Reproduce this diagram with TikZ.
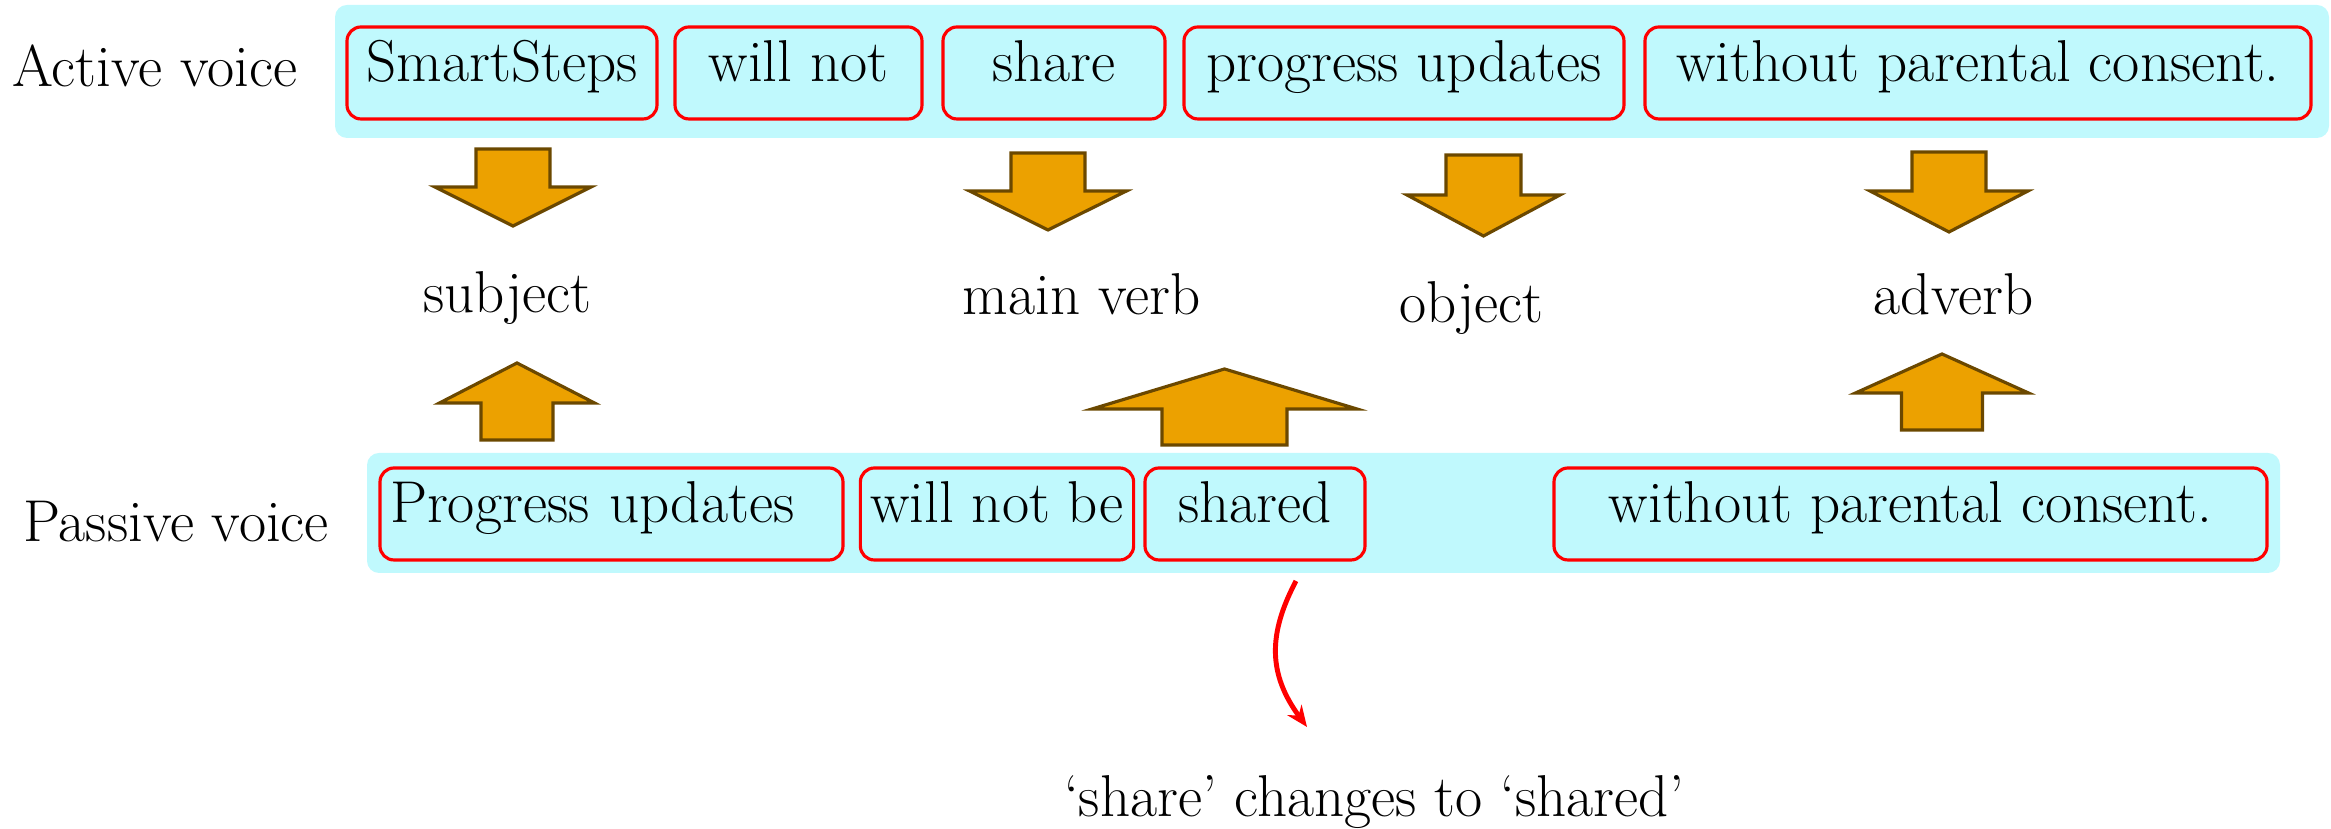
\documentclass[tikz,border=0pt]{standalone}
\usepackage{tikz}
\usetikzlibrary{arrows.meta}
\tikzset{>={Stealth[length=6pt,width=5pt]}}
\definecolor{bandcyan}{RGB}{192,249,253}
\definecolor{arrowfill}{RGB}{236,161,0}
\definecolor{arrowline}{RGB}{107,72,0}
\tikzstyle{band} = [fill=bandcyan, rounded corners=0.12cm]
\tikzstyle{word} = [draw=red, fill=bandcyan, line width=0.9pt, rounded corners=0.14cm, minimum height=0.92cm, text height=11.5pt, text depth=6.4pt, inner xsep=0.1cm]
\tikzstyle{label} = [anchor=base]
\tikzstyle{fat} = [fill=arrowfill, draw=arrowline, line width=0.9pt]
\tikzstyle{turn} = [->, red, line width=1.4pt]
\newcommand{\blockarrow}[6]{
\draw[fat] (#1-#5,#2) -- (#1-#5,#3) -- (#1-#6,#3) -- (#1,#4) -- (#1+#6,#3) -- (#1+#5,#3) -- (#1+#5,#2) -- cycle;
}

\begin{document}
\begin{tikzpicture}[font=\fontsize{16.8}{19}\selectfont]
		\useasboundingbox (0,0) rectangle (23.31,8.29);
		
		% Bands
		\path[band] (3.35,6.91) rectangle (23.29,8.24);
		\path[band] (3.67,2.56) rectangle (22.80,3.76);
		
		% Active sentence
		\node[label] (active) at (1.545,7.42) {Active voice};
		\node[word, minimum width=3.10cm] (subj) at (5.02,7.56) {SmartSteps};
		\node[word, minimum width=2.47cm] (aux) at (7.985,7.56) {will not};
		\node[word, minimum width=2.22cm] (verb) at (10.54,7.56) {share};
		\node[word, minimum width=4.40cm] (obj) at (14.04,7.56) {progress updates};
		\node[word, minimum width=6.66cm] (adv) at (19.78,7.56) {without parental consent.};
		
		% Passive sentence
		\node[label] (passive) at (1.76,2.87) {Passive voice};
		\node[word, text width=4.43cm, align=left] (psubj) at (6.115,3.15) {Progress updates};
		\node[word, minimum width=2.70cm] (paux) at (9.97,3.15) {will not be};
		\node[word, minimum width=2.20cm] (pverb) at (12.55,3.15) {shared};
		\node[word, minimum width=7.13cm] (padv) at (19.105,3.15) {without parental consent.};
		
		% Roles
		\node[label] (subject) at (5.075,5.16) {subject};
		\node[label] (mainverb) at (10.815,5.14) {main verb};
		\node[label] (object) at (14.715,5.06) {object};
		\node[label] (adverb) at (19.535,5.14) {adverb};
		
		% Down arrows
		\blockarrow{5.13}{6.80}{6.42}{6.03}{0.37}{0.78}
		\blockarrow{10.48}{6.76}{6.38}{5.99}{0.37}{0.785}
		\blockarrow{14.835}{6.74}{6.34}{5.93}{0.375}{0.765}
		\blockarrow{19.49}{6.77}{6.38}{5.97}{0.37}{0.79}
		
		% Up arrows
		\blockarrow{5.17}{3.89}{4.26}{4.66}{0.36}{0.775}
		\blockarrow{12.245}{3.84}{4.20}{4.60}{0.625}{1.325}
		\blockarrow{19.42}{3.99}{4.36}{4.75}{0.405}{0.865}
		
		% Note
		\coordinate (S) at (12.96,2.48);
		\coordinate (T) at (13.07,1.02);
		\draw[turn] (S) .. controls (12.68,1.95) and (12.68,1.55) .. (T);
		\node[label] (note) at (13.74,0.12) {`share' changes to `shared'};
	\end{tikzpicture}
\end{document}
